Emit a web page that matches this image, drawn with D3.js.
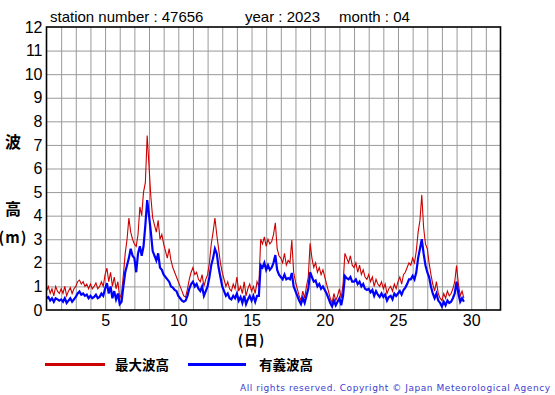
<!DOCTYPE html>
<html><head><meta charset="utf-8">
<script src="https://cdn.jsdelivr.net/npm/d3@7"></script>
<style>body{margin:0;background:#fff}svg{display:block}</style>
</head><body>
<svg id="c" width="555" height="395"></svg>
<script>
// ---- data ----
const titleParts = ["station number : 47656", "year : 2023", "month : 04"];
const startDay = 1;          // first sample: day 1, 00h
const stepDays = 0.125;      // 3-hourly samples
const maxWave = [
 0.8,1.0,0.7,0.9,0.6,1.0,0.8,0.7,
 0.9,0.7,1.0,0.6,0.8,0.95,0.7,0.9,
 1.0,1.2,1.27,1.1,1.2,1.0,1.1,0.9,
 1.1,0.9,1.0,1.15,0.9,1.0,1.2,1.0,
 1.5,1.78,1.2,1.6,1.0,1.4,0.9,1.2,
 0.5,0.7,1.5,2.4,3.0,3.9,3.3,3.0,
 2.8,2.7,3.2,4.37,4.0,5.0,5.4,7.4,
 6.1,4.8,3.9,3.6,3.3,3.8,3.0,3.2,
 2.8,2.5,2.2,2.6,2.1,1.8,1.6,1.4,
 1.2,1.0,0.8,0.6,0.55,0.9,1.3,1.6,
 1.8,1.5,1.6,1.3,1.2,1.5,1.0,1.3,
 1.5,2.0,2.8,3.3,3.9,3.2,2.6,2.0,
 1.6,1.3,1.0,1.2,0.9,0.8,1.1,0.9,
 1.4,0.8,1.0,0.7,1.2,0.6,0.9,1.1,
 0.8,1.0,0.7,1.2,1.0,3.0,2.8,3.1,
 2.7,3.0,2.8,2.9,3.2,3.7,2.6,2.3,
 2.2,2.0,2.4,1.9,2.1,2.0,2.97,1.6,
 1.2,0.9,0.6,0.4,0.8,0.5,1.0,1.4,
 2.83,2.2,1.8,2.0,1.6,1.8,1.5,1.7,
 1.4,1.1,0.8,0.5,0.3,0.7,0.4,0.6,
 0.9,0.5,1.1,2.4,2.2,2.0,2.3,1.9,
 1.8,2.0,1.6,1.9,1.5,1.7,1.4,1.3,
 1.5,1.2,1.4,1.0,1.3,1.1,1.0,1.2,
 0.9,1.1,0.7,0.9,1.0,0.8,1.1,0.9,
 1.2,1.4,1.1,1.5,1.6,1.8,2.0,1.9,
 2.2,2.0,2.5,3.3,3.8,4.88,3.5,2.8,
 2.6,2.0,1.5,1.1,0.8,1.2,0.7,0.5,
 0.4,0.7,0.5,0.8,0.6,0.7,0.9,1.2,
 1.88,1.1,0.6,0.8,0.5
];
const sigWave = [
 0.5,0.55,0.4,0.5,0.35,0.5,0.45,0.4,
 0.45,0.35,0.5,0.3,0.4,0.5,0.35,0.45,
 0.55,0.7,0.78,0.65,0.7,0.6,0.65,0.5,
 0.6,0.5,0.55,0.65,0.5,0.55,0.7,0.6,
 0.9,1.14,0.7,1.0,0.5,0.8,0.45,0.7,
 0.25,0.35,1.0,1.6,1.9,2.2,2.6,2.3,
 2.2,1.6,2.4,2.7,2.3,2.7,3.6,4.66,
 4.0,3.3,2.5,2.3,2.1,2.4,1.8,1.7,
 1.5,1.4,1.3,1.2,1.0,0.95,0.85,0.8,
 0.6,0.5,0.4,0.35,0.4,0.6,0.9,1.1,
 1.2,1.0,1.1,0.9,0.8,1.0,0.6,0.8,
 1.0,1.4,1.9,2.2,2.6,2.4,1.8,1.4,
 1.0,0.8,0.6,0.7,0.5,0.45,0.6,0.5,
 0.7,0.4,0.55,0.3,0.6,0.25,0.45,0.6,
 0.4,0.6,0.35,0.6,0.6,1.9,1.8,2.0,
 1.7,1.9,1.7,1.8,2.0,2.33,1.7,1.5,
 1.4,1.3,1.5,1.3,1.35,1.3,1.57,1.0,
 0.8,0.6,0.4,0.25,0.5,0.3,0.6,0.9,
 1.6,1.4,1.2,1.25,1.0,1.1,0.9,1.0,
 0.85,0.7,0.5,0.3,0.15,0.4,0.2,0.35,
 0.5,0.2,0.6,1.44,1.35,1.3,1.4,1.2,
 1.2,1.3,1.1,1.2,1.0,1.1,0.9,0.85,
 0.9,0.75,0.85,0.6,0.8,0.65,0.55,0.7,
 0.55,0.65,0.4,0.55,0.6,0.45,0.7,0.6,
 0.7,0.8,0.65,0.85,0.95,1.1,1.3,1.3,
 1.45,1.3,1.6,2.2,2.6,3.0,2.4,1.9,
 1.6,1.4,1.0,0.7,0.5,0.7,0.4,0.3,
 0.15,0.35,0.2,0.4,0.3,0.35,0.5,0.7,
 1.2,0.7,0.35,0.5,0.35
];
const xTicks = [5,10,15,20,25,30];
const yTicks = [0,1,2,3,4,5,6,7,8,9,10,11,12];
const legendLabels = ["最大波高","有義波高"];
const colors = ["#cc0000","#0000ff"];

// ---- layout ----
const svg = d3.select("#c");
const L = 46.5, R = 500.5, T = 27, B = 310;
const x = d3.scaleLinear().domain([1,32]).range([L,R]);
const y = d3.scaleLinear().domain([0,12]).range([B,T]);
const font = "'Liberation Sans', Arial, sans-serif";
const cjk = "'Noto Sans CJK JP', sans-serif";

// grid
svg.append("g").attr("transform",`translate(0,${B})`)
  .call(d3.axisBottom(x).tickValues(d3.range(2,32)).tickSize(-(B-T)).tickFormat(""))
  .call(g=>g.select(".domain").remove())
  .call(g=>g.selectAll("line").attr("stroke","#9a9a9a").attr("stroke-width",1));
svg.append("g").attr("transform",`translate(${L},0)`)
  .call(d3.axisLeft(y).tickValues(d3.range(1,12)).tickSize(-(R-L)).tickFormat(""))
  .call(g=>g.select(".domain").remove())
  .call(g=>g.selectAll("line").attr("stroke","#9a9a9a").attr("stroke-width",1));

// series
const pts = arr => arr.map((v,i)=>({t:startDay+i*stepDays, v}));
const line = d3.line().x(d=>x(d.t)).y(d=>y(d.v));
svg.append("path").datum(pts(maxWave)).attr("d",line)
  .attr("fill","none").attr("stroke",colors[0]).attr("stroke-width",1.1);
svg.append("path").datum(pts(sigWave)).attr("d",line)
  .attr("fill","none").attr("stroke",colors[1]).attr("stroke-width",2.2);

// frame
svg.append("rect").attr("x",L).attr("y",T).attr("width",R-L).attr("height",B-T)
  .attr("fill","none").attr("stroke","#000").attr("stroke-width",1.6);

// axes labels
const ax = svg.append("g").attr("transform",`translate(0,${B})`)
  .call(d3.axisBottom(x).tickValues(xTicks).tickSize(0).tickPadding(5));
ax.select(".domain").remove();
ax.selectAll("text").attr("font-family",font).attr("font-size",16).attr("fill","#000");
const ay = svg.append("g").attr("transform",`translate(${L},0)`)
  .call(d3.axisLeft(y).tickValues(yTicks).tickSize(0).tickPadding(4));
ay.select(".domain").remove();
ay.selectAll("text").attr("font-family",font).attr("font-size",16).attr("fill","#000");

// title
const tx = [50, 245, 339];
titleParts.forEach((s,i)=>svg.append("text").attr("x",tx[i]).attr("y",22)
  .attr("font-family",font).attr("font-size",15).text(s));

// y label
[["波",148],["高",215]].forEach(([s,yy])=>svg.append("text").attr("x",13).attr("y",yy)
  .attr("text-anchor","middle").attr("font-family",cjk).attr("font-weight","bold").attr("font-size",16).text(s));
svg.append("text").attr("x",13).attr("y",243).attr("text-anchor","middle")
  .attr("font-family",cjk).attr("font-weight","bold").attr("font-size",15)
  .attr("letter-spacing",1).text("(m)");
// x label
svg.append("text").attr("x",x(15)).attr("y",345).attr("text-anchor","middle")
  .attr("font-family",cjk).attr("font-weight","bold").attr("font-size",14)
  .attr("letter-spacing",1).text("(日)");

// legend
const lg = [[45,105,115],[188,246,259]];
lg.forEach(([x1,x2,tx2],i)=>{
  svg.append("line").attr("x1",x1).attr("x2",x2).attr("y1",364.5).attr("y2",364.5)
    .attr("stroke",colors[i]).attr("stroke-width",3);
  svg.append("text").attr("x",tx2).attr("y",370).attr("font-family",cjk)
    .attr("font-weight","bold").attr("font-size",13.5).text(legendLabels[i]);
});
// copyright
svg.append("text").attr("x",240).attr("y",391).attr("font-family","'DejaVu Sans', sans-serif")
  .attr("font-size",9).attr("fill","#3c3cd0").attr("textLength",310).attr("lengthAdjust","spacing")
  .text("All rights reserved. Copyright © Japan Meteorological Agency");
</script>
</body></html>
